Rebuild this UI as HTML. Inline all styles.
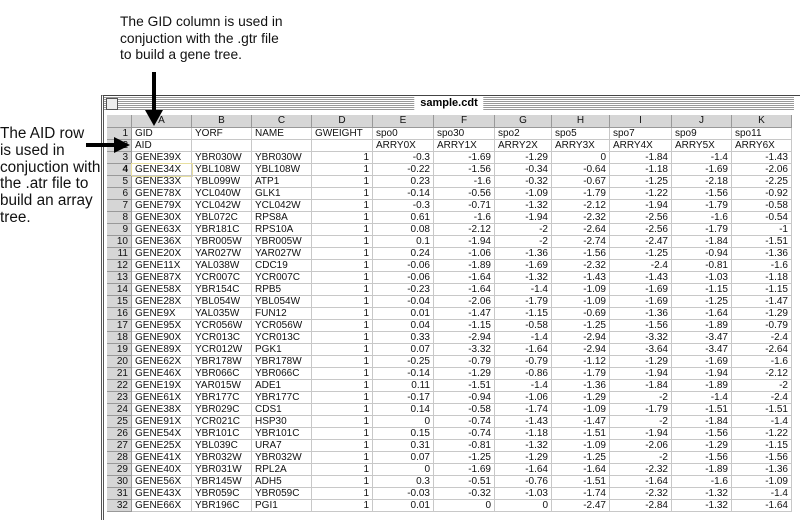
<!DOCTYPE html>
<html><head><meta charset="utf-8">
<style>
body{margin:0;width:800px;height:519px;background:#fff;overflow:hidden;position:relative;font-family:"Liberation Sans",sans-serif}
.ann{position:absolute;color:#111}
#win{position:absolute;left:101px;top:95px;width:697px;height:424px;border-left:3px double #555;border-top:1px solid #444;border-right:1px solid #888}
#title{position:absolute;left:104px;top:96px;width:690px;height:15px;background:repeating-linear-gradient(#fff 0 1px,#999 1px 2px);}
#title span{position:absolute;left:50%;transform:translateX(-50%);background:#fff;padding:0 6px;font-size:11px;font-weight:bold;top:1px;line-height:13px}
#box{position:absolute;left:106px;top:98px;width:10px;height:10px;border:1px solid #555;background:#eee}
.c{position:absolute;font-size:10px;line-height:12px;height:11px;border-right:1px solid #c8c8c8;border-bottom:1px solid #c8c8c8;box-sizing:content-box;padding:0 3px;white-space:nowrap;overflow:hidden;color:#111}
.h{background:#d6d6d6;border-color:#999;text-align:center}
.r{text-align:right}
</style></head><body>
<div class="ann" style="left:120px;top:14px;font-size:13.8px;line-height:16.5px">The GID column is used in<br>conjuction with the .gtr file<br>to build a gene tree.</div>
<div class="ann" style="left:0;top:126px;font-size:15.3px;line-height:16.8px">The AID row<br>is used in<br>conjuction with<br>the .atr file to<br>build an array<br>tree.</div>
<div id="win"></div>
<div id="title"><span>sample.cdt</span></div>
<div id="box"></div>
<div id="grid"></div>
<svg width="800" height="519" style="position:absolute;left:0;top:0">
<line x1="154" y1="72" x2="154" y2="112" stroke="#000" stroke-width="4"/>
<polygon points="145,110 163,110 154,126" fill="#000"/>
<line x1="86" y1="145" x2="116" y2="145" stroke="#000" stroke-width="4"/>
<polygon points="114,137 114,153 130,145" fill="#000"/>
</svg>
<script>
const colX=[107,132,192,252,312,373,434,495,552,610,672,732,792];
const letters=["","A","B","C","D","E","F","G","H","I","J","K"];
const row1=["GID","YORF","NAME","GWEIGHT","spo0","spo30","spo2","spo5","spo7","spo9","spo11"];
const row2=["AID","","","","ARRY0X","ARRY1X","ARRY2X","ARRY3X","ARRY4X","ARRY5X","ARRY6X"];
const rows=[
["GENE39X","YBR030W","YBR030W",1,-0.3,-1.69,-1.29,0,-1.84,-1.4,-1.43],
["GENE34X","YBL108W","YBL108W",1,-0.22,-1.56,-0.34,-0.64,-1.18,-1.69,-2.06],
["GENE33X","YBL099W","ATP1",1,0.23,-1.6,-0.32,-0.67,-1.25,-2.18,-2.25],
["GENE78X","YCL040W","GLK1",1,-0.14,-0.56,-1.09,-1.79,-1.22,-1.56,-0.92],
["GENE79X","YCL042W","YCL042W",1,-0.3,-0.71,-1.32,-2.12,-1.94,-1.79,-0.58],
["GENE30X","YBL072C","RPS8A",1,0.61,-1.6,-1.94,-2.32,-2.56,-1.6,-0.54],
["GENE63X","YBR181C","RPS10A",1,0.08,-2.12,-2,-2.64,-2.56,-1.79,-1],
["GENE36X","YBR005W","YBR005W",1,0.1,-1.94,-2,-2.74,-2.47,-1.84,-1.51],
["GENE20X","YAR027W","YAR027W",1,0.24,-1.06,-1.36,-1.56,-1.25,-0.94,-1.36],
["GENE11X","YAL038W","CDC19",1,-0.06,-1.89,-1.69,-2.32,-2.4,-0.81,-1.6],
["GENE87X","YCR007C","YCR007C",1,-0.06,-1.64,-1.32,-1.43,-1.43,-1.03,-1.18],
["GENE58X","YBR154C","RPB5",1,-0.23,-1.64,-1.4,-1.09,-1.69,-1.15,-1.15],
["GENE28X","YBL054W","YBL054W",1,-0.04,-2.06,-1.79,-1.09,-1.69,-1.25,-1.47],
["GENE9X","YAL035W","FUN12",1,0.01,-1.47,-1.15,-0.69,-1.36,-1.64,-1.29],
["GENE95X","YCR056W","YCR056W",1,0.04,-1.15,-0.58,-1.25,-1.56,-1.89,-0.79],
["GENE90X","YCR013C","YCR013C",1,0.33,-2.94,-1.4,-2.94,-3.32,-3.47,-2.4],
["GENE89X","YCR012W","PGK1",1,0.07,-3.32,-1.64,-2.94,-3.64,-3.47,-2.64],
["GENE62X","YBR178W","YBR178W",1,-0.25,-0.79,-0.79,-1.12,-1.29,-1.69,-1.6],
["GENE46X","YBR066C","YBR066C",1,-0.14,-1.29,-0.86,-1.79,-1.94,-1.94,-2.12],
["GENE19X","YAR015W","ADE1",1,0.11,-1.51,-1.4,-1.36,-1.84,-1.89,-2],
["GENE61X","YBR177C","YBR177C",1,-0.17,-0.94,-1.06,-1.29,-2,-1.4,-2.4],
["GENE38X","YBR029C","CDS1",1,0.14,-0.58,-1.74,-1.09,-1.79,-1.51,-1.51],
["GENE91X","YCR021C","HSP30",1,0,-0.74,-1.43,-1.47,-2,-1.84,-1.4],
["GENE54X","YBR101C","YBR101C",1,0.15,-0.74,-1.18,-1.51,-1.94,-1.56,-1.22],
["GENE25X","YBL039C","URA7",1,0.31,-0.81,-1.32,-1.09,-2.06,-1.29,-1.15],
["GENE41X","YBR032W","YBR032W",1,0.07,-1.25,-1.29,-1.25,-2,-1.56,-1.56],
["GENE40X","YBR031W","RPL2A",1,0,-1.69,-1.64,-1.64,-2.32,-1.89,-1.36],
["GENE56X","YBR145W","ADH5",1,0.3,-0.51,-0.76,-1.51,-1.64,-1.6,-1.09],
["GENE43X","YBR059C","YBR059C",1,-0.03,-0.32,-1.03,-1.74,-2.32,-1.32,-1.4],
["GENE66X","YBR196C","PGI1",1,0.01,0,0,-2.47,-2.84,-1.32,-1.64]];
const g=document.getElementById('grid');
function cell(ci,y,h,txt,cls){
  const d=document.createElement('div');
  
  
  d.className='c '+cls;
  d.style.left=colX[ci]+'px';d.style.top=y+'px';
  d.style.width=(colX[ci+1]-colX[ci]-7)+'px';d.style.height=(h-1)+'px';d.style.lineHeight=(h-1)+'px';
  d.textContent=txt;g.appendChild(d);return d;
}
for(let c=0;c<12;c++){const d=cell(c,115,13,letters[c],'h');}
const all=[row1,row2].concat(rows);
for(let r=0;r<32;r++){
  const y=128+r*12;
  const n=cell(0,y,12,String(r+1),'h');
  
  n.style.textAlign='right';
  if(r===3)n.style.fontWeight='bold';
  const data=all[r];
  for(let c=0;c<11;c++){
    const v=data[c];
    const num=typeof v==='number';
    const d=cell(c+1,y,12,String(v),num?'r':'');
    if(r===3&&c===0){d.style.outline='1px solid #e8e0a0';}
  }
}
</script>
</body></html>
